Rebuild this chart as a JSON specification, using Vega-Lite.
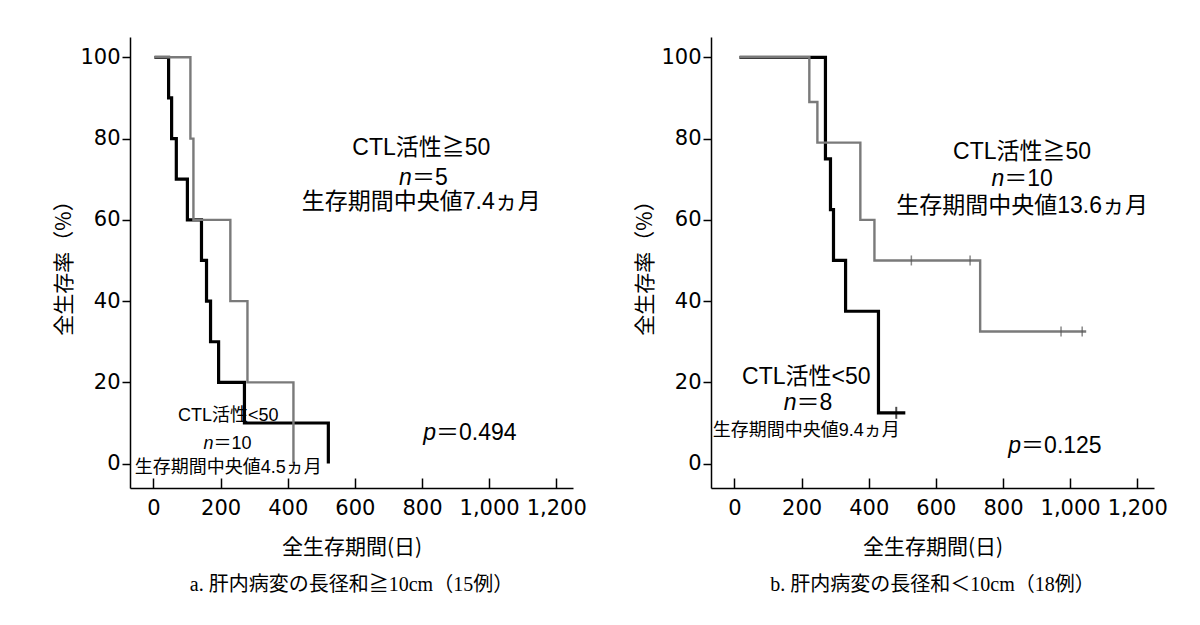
{
  "$schema": "https://vega.github.io/schema/vega-lite/v6.json",
  "padding": {"left": 53, "top": 37, "right": 0, "bottom": 0},
  "background": "white",
  "data": {"values": [
    {"panel": "a. 肝内病変の長径和≧10cm（15例）", "type": "curve", "grp": "hi", "day": 3, "surv": 100},
    {"panel": "a. 肝内病変の長径和≧10cm（15例）", "type": "curve", "grp": "hi", "day": 110, "surv": 80},
    {"panel": "a. 肝内病変の長径和≧10cm（15例）", "type": "curve", "grp": "hi", "day": 119, "surv": 60},
    {"panel": "a. 肝内病変の長径和≧10cm（15例）", "type": "curve", "grp": "hi", "day": 229, "surv": 40},
    {"panel": "a. 肝内病変の長径和≧10cm（15例）", "type": "curve", "grp": "hi", "day": 280, "surv": 20},
    {"panel": "a. 肝内病変の長径和≧10cm（15例）", "type": "curve", "grp": "hi", "day": 417, "surv": 0},
    {"panel": "a. 肝内病変の長径和≧10cm（15例）", "type": "curve", "grp": "lo", "day": 3, "surv": 100},
    {"panel": "a. 肝内病変の長径和≧10cm（15例）", "type": "curve", "grp": "lo", "day": 45, "surv": 90},
    {"panel": "a. 肝内病変の長径和≧10cm（15例）", "type": "curve", "grp": "lo", "day": 54, "surv": 80},
    {"panel": "a. 肝内病変の長径和≧10cm（15例）", "type": "curve", "grp": "lo", "day": 68, "surv": 70},
    {"panel": "a. 肝内病変の長径和≧10cm（15例）", "type": "curve", "grp": "lo", "day": 101, "surv": 60},
    {"panel": "a. 肝内病変の長径和≧10cm（15例）", "type": "curve", "grp": "lo", "day": 143, "surv": 50},
    {"panel": "a. 肝内病変の長径和≧10cm（15例）", "type": "curve", "grp": "lo", "day": 158, "surv": 40},
    {"panel": "a. 肝内病変の長径和≧10cm（15例）", "type": "curve", "grp": "lo", "day": 170, "surv": 30},
    {"panel": "a. 肝内病変の長径和≧10cm（15例）", "type": "curve", "grp": "lo", "day": 194, "surv": 20},
    {"panel": "a. 肝内病変の長径和≧10cm（15例）", "type": "curve", "grp": "lo", "day": 271, "surv": 10},
    {"panel": "a. 肝内病変の長径和≧10cm（15例）", "type": "curve", "grp": "lo", "day": 521, "surv": 0},
    {"panel": "b. 肝内病変の長径和＜10cm（18例）", "type": "curve", "grp": "hi", "day": 15, "surv": 100},
    {"panel": "b. 肝内病変の長径和＜10cm（18例）", "type": "curve", "grp": "hi", "day": 223, "surv": 89},
    {"panel": "b. 肝内病変の長径和＜10cm（18例）", "type": "curve", "grp": "hi", "day": 247, "surv": 79},
    {"panel": "b. 肝内病変の長径和＜10cm（18例）", "type": "curve", "grp": "hi", "day": 375, "surv": 60},
    {"panel": "b. 肝内病変の長径和＜10cm（18例）", "type": "curve", "grp": "hi", "day": 417, "surv": 50},
    {"panel": "b. 肝内病変の長径和＜10cm（18例）", "type": "curve", "grp": "hi", "day": 732, "surv": 32.5},
    {"panel": "b. 肝内病変の長径和＜10cm（18例）", "type": "curve", "grp": "hi", "day": 1048, "surv": 32.5},
    {"panel": "b. 肝内病変の長径和＜10cm（18例）", "type": "curve", "grp": "lo", "day": 15, "surv": 100},
    {"panel": "b. 肝内病変の長径和＜10cm（18例）", "type": "curve", "grp": "lo", "day": 271, "surv": 75},
    {"panel": "b. 肝内病変の長径和＜10cm（18例）", "type": "curve", "grp": "lo", "day": 286, "surv": 62.5},
    {"panel": "b. 肝内病変の長径和＜10cm（18例）", "type": "curve", "grp": "lo", "day": 295, "surv": 50},
    {"panel": "b. 肝内病変の長径和＜10cm（18例）", "type": "curve", "grp": "lo", "day": 331, "surv": 37.5},
    {"panel": "b. 肝内病変の長径和＜10cm（18例）", "type": "curve", "grp": "lo", "day": 429, "surv": 12.5},
    {"panel": "b. 肝内病変の長径和＜10cm（18例）", "type": "curve", "grp": "lo", "day": 509, "surv": 12.5},
    {"panel": "b. 肝内病変の長径和＜10cm（18例）", "type": "censor", "grp": "hi", "day": 527, "surv": 50},
    {"panel": "b. 肝内病変の長径和＜10cm（18例）", "type": "censor", "grp": "hi", "day": 702, "surv": 50},
    {"panel": "b. 肝内病変の長径和＜10cm（18例）", "type": "censor", "grp": "hi", "day": 973, "surv": 32.5},
    {"panel": "b. 肝内病変の長径和＜10cm（18例）", "type": "censor", "grp": "hi", "day": 1036, "surv": 32.5},
    {"panel": "b. 肝内病変の長径和＜10cm（18例）", "type": "censor", "grp": "lo", "day": 482, "surv": 12.5},
    {"panel": "a. 肝内病変の長径和≧10cm（15例）", "type": "label", "kind": "main", "text": "CTL活性≧50", "day": 798, "surv": 77.6},
    {"panel": "a. 肝内病変の長径和≧10cm（15例）", "type": "label", "kind": "it", "text": "n", "day": 770, "surv": 70.4},
    {"panel": "a. 肝内病変の長径和≧10cm（15例）", "type": "label", "kind": "val", "text": "＝5", "day": 770, "surv": 70.4},
    {"panel": "a. 肝内病変の長径和≧10cm（15例）", "type": "label", "kind": "main", "text": "生存期間中央値7.4ヵ月", "day": 798, "surv": 64.3},
    {"panel": "a. 肝内病変の長径和≧10cm（15例）", "type": "label", "kind": "it", "text": "p", "day": 842, "surv": 7.6},
    {"panel": "a. 肝内病変の長径和≧10cm（15例）", "type": "label", "kind": "val", "text": "＝0.494", "day": 842, "surv": 7.6},
    {"panel": "a. 肝内病変の長径和≧10cm（15例）", "type": "label", "kind": "small", "text": "CTL活性<50", "day": 223, "surv": 11.8},
    {"panel": "a. 肝内病変の長径和≧10cm（15例）", "type": "label", "kind": "sit", "text": "n", "day": 179, "surv": 4.9},
    {"panel": "a. 肝内病変の長径和≧10cm（15例）", "type": "label", "kind": "sval", "text": "＝10", "day": 179, "surv": 4.9},
    {"panel": "a. 肝内病変の長径和≧10cm（15例）", "type": "label", "kind": "small", "text": "生存期間中央値4.5ヵ月", "day": 223, "surv": -1.2},
    {"panel": "b. 肝内病変の長径和＜10cm（18例）", "type": "label", "kind": "main", "text": "CTL活性≧50", "day": 857, "surv": 76.6},
    {"panel": "b. 肝内病変の長径和＜10cm（18例）", "type": "label", "kind": "it", "text": "n", "day": 804, "surv": 70},
    {"panel": "b. 肝内病変の長径和＜10cm（18例）", "type": "label", "kind": "val", "text": "＝10", "day": 804, "surv": 70},
    {"panel": "b. 肝内病変の長径和＜10cm（18例）", "type": "label", "kind": "main", "text": "生存期間中央値13.6ヵ月", "day": 857, "surv": 63.5},
    {"panel": "b. 肝内病変の長径和＜10cm（18例）", "type": "label", "kind": "it", "text": "p", "day": 854, "surv": 4.4},
    {"panel": "b. 肝内病変の長径和＜10cm（18例）", "type": "label", "kind": "val", "text": "＝0.125", "day": 854, "surv": 4.4},
    {"panel": "b. 肝内病変の長径和＜10cm（18例）", "type": "label", "kind": "main", "text": "CTL活性<50", "day": 214, "surv": 21.2},
    {"panel": "b. 肝内病変の長径和＜10cm（18例）", "type": "label", "kind": "it", "text": "n", "day": 185, "surv": 14.8},
    {"panel": "b. 肝内病変の長径和＜10cm（18例）", "type": "label", "kind": "val", "text": "＝8", "day": 185, "surv": 14.8},
    {"panel": "b. 肝内病変の長径和＜10cm（18例）", "type": "label", "kind": "small", "text": "生存期間中央値9.4ヵ月", "day": 214, "surv": 8.1}
  ]},
  "facet": {
    "column": {
      "field": "panel", "type": "nominal", "title": null,
      "header": {"labelOrient": "bottom", "labelFont": "Liberation Serif, Noto Sans CJK JP", "labelFontSize": 20, "labelFontWeight": "normal", "labelColor": "#000", "labelPadding": 18}
    }
  },
  "spacing": 47,
  "resolve": {"axis": {"y": "independent", "x": "independent"}},
  "spec": {
    "width": 443,
    "height": 451,
    "encoding": {
      "x": {"field": "day", "type": "quantitative",
        "scale": {"domain": [-70, 1250], "nice": false, "zero": false},
        "axis": {"values": [0, 200, 400, 600, 800, 1000, 1200], "format": ",d", "tickSize": -10, "labelPadding": 19, "labelOverlap": false, "labelFlush": false, "title": "全生存期間(日)", "titlePadding": 18}},
      "y": {"field": "surv", "type": "quantitative",
        "scale": {"domain": [-6, 105], "nice": false, "zero": false},
        "axis": {"values": [0, 20, 40, 60, 80, 100], "tickSize": 8, "labelPadding": 2, "title": "全生存率（%）", "titlePadding": 5}}
    },
    "layer": [
      {"transform": [{"filter": "datum.type == 'curve' && datum.grp == 'lo'"}],
       "mark": {"type": "line", "interpolate": "step-after", "color": "#000", "strokeWidth": 3.2}},
      {"transform": [{"filter": "datum.type == 'curve' && datum.grp == 'hi'"}],
       "mark": {"type": "line", "interpolate": "step-after", "color": "#7a7a7a", "strokeWidth": 2.4}},
      {"transform": [{"filter": "datum.type == 'censor' && datum.grp == 'hi'"}],
       "mark": {"type": "tick", "orient": "vertical", "size": 10, "thickness": 1.5, "color": "#555"}},
      {"transform": [{"filter": "datum.type == 'censor' && datum.grp == 'lo'"}],
       "mark": {"type": "tick", "orient": "vertical", "size": 12, "thickness": 2, "color": "#000"}},
      {"transform": [{"filter": "datum.type == 'label' && datum.kind == 'main'"}],
       "mark": {"type": "text", "align": "center", "baseline": "middle", "font": "Liberation Sans, Noto Sans CJK JP", "fontSize": 23, "color": "#000"},
       "encoding": {"text": {"field": "text"}}},
      {"transform": [{"filter": "datum.type == 'label' && datum.kind == 'small'"}],
       "mark": {"type": "text", "align": "center", "baseline": "middle", "font": "Liberation Sans, Noto Sans CJK JP", "fontSize": 18, "color": "#000"},
       "encoding": {"text": {"field": "text"}}},
      {"transform": [{"filter": "datum.type == 'label' && datum.kind == 'it'"}],
       "mark": {"type": "text", "align": "right", "baseline": "middle", "font": "Liberation Sans", "fontStyle": "italic", "fontSize": 23, "color": "#000"},
       "encoding": {"text": {"field": "text"}}},
      {"transform": [{"filter": "datum.type == 'label' && datum.kind == 'val'"}],
       "mark": {"type": "text", "align": "left", "baseline": "middle", "font": "Liberation Sans, Noto Sans CJK JP", "fontSize": 23, "color": "#000"},
       "encoding": {"text": {"field": "text"}}},
      {"transform": [{"filter": "datum.type == 'label' && datum.kind == 'sit'"}],
       "mark": {"type": "text", "align": "right", "baseline": "middle", "font": "Liberation Sans", "fontStyle": "italic", "fontSize": 18, "color": "#000"},
       "encoding": {"text": {"field": "text"}}},
      {"transform": [{"filter": "datum.type == 'label' && datum.kind == 'sval'"}],
       "mark": {"type": "text", "align": "left", "baseline": "middle", "font": "Liberation Sans, Noto Sans CJK JP", "fontSize": 18, "color": "#000"},
       "encoding": {"text": {"field": "text"}}}
    ]
  },
  "config": {
    "view": {"stroke": null},
    "axis": {"grid": false, "domainColor": "#000", "tickColor": "#000", "labelColor": "#000", "titleColor": "#000",
      "domainWidth": 1.5, "tickWidth": 1.5,
      "labelFont": "DejaVu Sans", "labelFontSize": 21,
      "titleFont": "Noto Sans CJK JP", "titleFontSize": 21, "titleFontWeight": "normal"}
  }
}
